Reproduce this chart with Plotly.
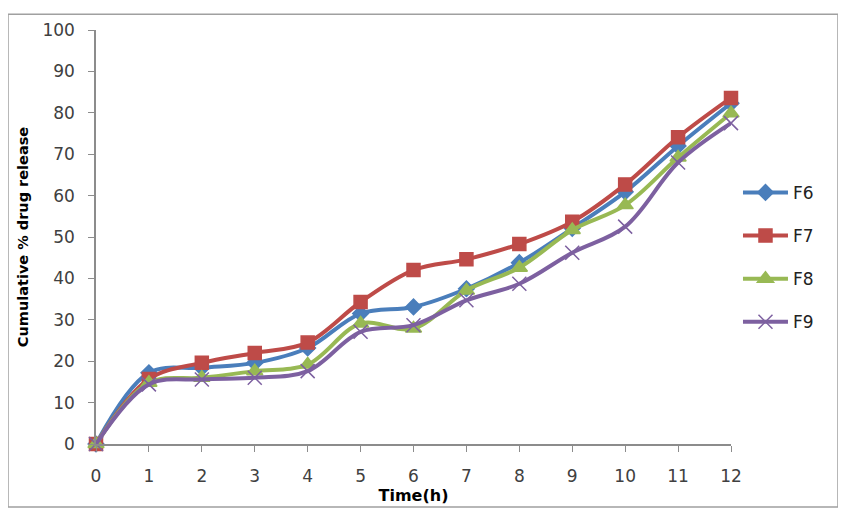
import plotly.graph_objects as go

time_h = [0, 1, 2, 3, 4, 5, 6, 7, 8, 9, 10, 11, 12]
f6 = [0, 17.2, 18.4, 19.6, 23.2, 31.5, 33.1, 37.5, 43.8, 52.1, 60.9, 72.0, 82.3]
f7 = [0, 15.7, 19.6, 22.0, 24.5, 34.3, 42.0, 44.6, 48.3, 53.7, 62.7, 74.1, 83.6]
f8 = [0, 14.8, 16.0, 17.6, 19.2, 29.1, 27.9, 37.1, 42.6, 51.7, 57.7, 69.2, 79.9]
f9 = [0, 14.4, 15.6, 16.0, 17.6, 27.1, 28.7, 34.7, 38.7, 46.2, 52.5, 68.0, 77.5]

series = [
    ("F6", f6, "#4A7EBB", "diamond", 12),
    ("F7", f7, "#BE4B48", "square", 13),
    ("F8", f8, "#98B954", "triangle-up", 14),
    ("F9", f9, "#7D60A0", "x-thin-open", 14),
]

fig = go.Figure()
for i, (name, vals, color, sym, sz) in enumerate(series):
    fig.add_trace(go.Scatter(
        x=time_h, y=vals, name=name, mode="lines+markers",
        line=dict(color=color, width=4, shape="spline", smoothing=1.0),
        marker=dict(symbol=sym, size=sz, color=color,
                    line=dict(color=color, width=1.5)),
        cliponaxis=False, legendgroup=name,
    ))

axis_font = dict(family="DejaVu Sans", size=17, color="#404040")
fig.update_layout(
    width=846, height=514,
    margin=dict(l=88, r=123, t=16, b=78),
    plot_bgcolor="white", paper_bgcolor="white",
    showlegend=True,
    legend=dict(x=1.011, y=0.65, xanchor="left", yanchor="top",
                font=dict(family="DejaVu Sans", size=17, color="#222222"),
                tracegroupgap=18, traceorder="grouped",
                bgcolor="rgba(0,0,0,0)", itemwidth=45),
    xaxis=dict(range=[0, 12], tickmode="linear", dtick=1, showgrid=False,
               zeroline=False, showline=True, linecolor="#8C8C8C", linewidth=1.5,
               ticks="outside", ticklen=6, tickcolor="#8C8C8C",
               tickfont=axis_font, ticklabelstandoff=10,
               title=dict(text="<b>Time(h)</b>", standoff=0,
                          font=dict(family="DejaVu Sans", size=16, color="#000000"))),
    yaxis=dict(range=[0, 100], tickmode="linear", dtick=10, showgrid=False,
               zeroline=False, showline=True, linecolor="#8C8C8C", linewidth=1.5,
               ticks="outside", ticklen=6, tickcolor="#8C8C8C",
               tickfont=axis_font, ticklabelstandoff=10,
               title=dict(text="<b>Cumulative % drug release</b>", standoff=10,
                          font=dict(family="DejaVu Sans", size=14.5, color="#000000"))),
    shapes=[dict(type="rect", xref="paper", yref="paper",
                 x0=-0.1386, x1=1.1685, y0=-0.1524, y1=1.0381,
                 line=dict(color="#A0A0A0", width=1.5), layer="below")],
)

fig.write_html("out.html")
